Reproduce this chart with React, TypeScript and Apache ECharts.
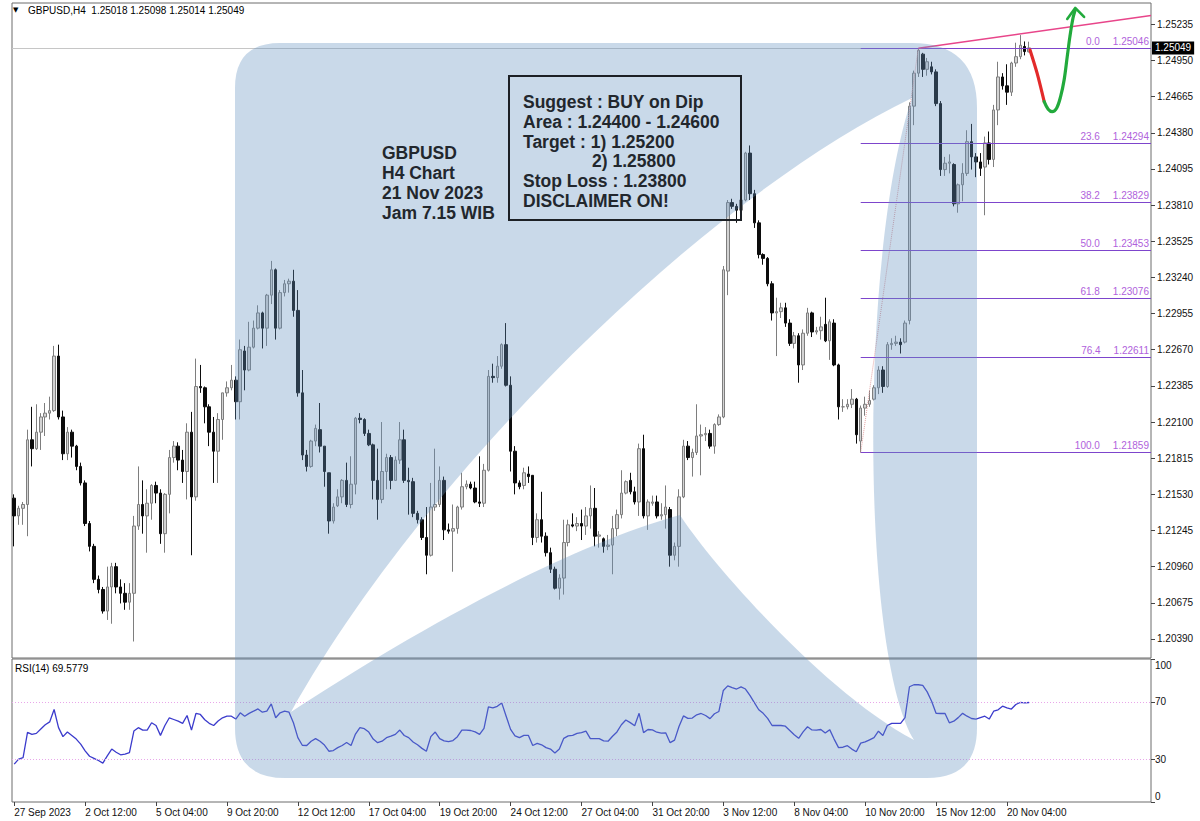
import React, { useEffect, useRef } from "react";
import * as echarts from "echarts";

// ---------- data ----------
const CATEGORY_SLOTS = 257; // bars + empty right margin of the MT4 chart
const LABEL_STEP = 16;
const TIME_LABELS = [
  "27 Sep 2023", "2 Oct 12:00", "5 Oct 04:00", "9 Oct 20:00", "12 Oct 12:00",
  "17 Oct 04:00", "19 Oct 20:00", "24 Oct 12:00", "27 Oct 04:00", "31 Oct 20:00",
  "3 Nov 12:00", "8 Nov 04:00", "10 Nov 20:00", "15 Nov 12:00", "20 Nov 04:00",
];
const PRICE_MIN = 1.2024;
const PRICE_MAX = 1.25403;
const PRICE_TICKS = [
  1.2039, 1.20675, 1.2096, 1.21245, 1.2153, 1.21815, 1.221, 1.22385, 1.2267,
  1.22955, 1.2324, 1.23525, 1.2381, 1.24095, 1.2438, 1.24665, 1.2495, 1.25235,
];
const RSI_TICKS = [0, 30, 70, 100];
const RSI_LEVELS = [70, 30];

// [open, close, low, high]
const CANDLES = [
  [1.2150, 1.2136, 1.2112, 1.2153], [1.2136, 1.2142, 1.2129, 1.2144], [1.2142, 1.2145, 1.2129, 1.2147], [1.2145, 1.2196, 1.2120, 1.2204], [1.2196, 1.2189, 1.2175, 1.2222],
  [1.2189, 1.2202, 1.2188, 1.2224], [1.2202, 1.2214, 1.2188, 1.2217], [1.2214, 1.2217, 1.2199, 1.2225], [1.2217, 1.2219, 1.2212, 1.2230], [1.2219, 1.2262, 1.2218, 1.2270],
  [1.2262, 1.2214, 1.2212, 1.2271], [1.2214, 1.2185, 1.2180, 1.2219], [1.2185, 1.2202, 1.2180, 1.2206], [1.2202, 1.2191, 1.2182, 1.2204], [1.2191, 1.2175, 1.2172, 1.2192],
  [1.2175, 1.2162, 1.2160, 1.2178], [1.2162, 1.2130, 1.2128, 1.2164], [1.2130, 1.2112, 1.2108, 1.2132], [1.2112, 1.2086, 1.2083, 1.2114], [1.2086, 1.2078, 1.2075, 1.2089],
  [1.2078, 1.2061, 1.2059, 1.2080], [1.2061, 1.2080, 1.2054, 1.2096], [1.2080, 1.2096, 1.2051, 1.2099], [1.2096, 1.2080, 1.2075, 1.2099], [1.2080, 1.2075, 1.2067, 1.2086],
  [1.2075, 1.2068, 1.2062, 1.2083], [1.2068, 1.2075, 1.2062, 1.2083], [1.2075, 1.2128, 1.2037, 1.2136], [1.2128, 1.2145, 1.2125, 1.2175], [1.2145, 1.2136, 1.2122, 1.2164],
  [1.2136, 1.2146, 1.2107, 1.2157], [1.2146, 1.2160, 1.2133, 1.2161], [1.2160, 1.2154, 1.2146, 1.2163], [1.2154, 1.2122, 1.2114, 1.2157], [1.2122, 1.2153, 1.2107, 1.2154],
  [1.2153, 1.2182, 1.2138, 1.2188], [1.2182, 1.2191, 1.2178, 1.2195], [1.2191, 1.2180, 1.2172, 1.2194], [1.2180, 1.2171, 1.2162, 1.2188], [1.2171, 1.2202, 1.2149, 1.2209],
  [1.2202, 1.2151, 1.2105, 1.2218], [1.2151, 1.2238, 1.2148, 1.2260], [1.2238, 1.2237, 1.2233, 1.2255], [1.2237, 1.2222, 1.2209, 1.2238], [1.2222, 1.2202, 1.2191, 1.2224],
  [1.2202, 1.2187, 1.2162, 1.2214], [1.2187, 1.2212, 1.2162, 1.2217], [1.2212, 1.2233, 1.2196, 1.2233], [1.2233, 1.2237, 1.2230, 1.2242], [1.2237, 1.2243, 1.2235, 1.2255],
  [1.2243, 1.2226, 1.2212, 1.2246], [1.2226, 1.2267, 1.2212, 1.2275], [1.2266, 1.2251, 1.2235, 1.2270], [1.2251, 1.2269, 1.2250, 1.2289], [1.2269, 1.2284, 1.2268, 1.2290],
  [1.2284, 1.2296, 1.2283, 1.2302], [1.2296, 1.2284, 1.2268, 1.2297], [1.2284, 1.2310, 1.2270, 1.2311], [1.2310, 1.2330, 1.2303, 1.2337], [1.2330, 1.2284, 1.2275, 1.2331],
  [1.2284, 1.2312, 1.2283, 1.2314], [1.2312, 1.2319, 1.2309, 1.2322], [1.2319, 1.2321, 1.2312, 1.2323], [1.2321, 1.2298, 1.2293, 1.2330], [1.2298, 1.2233, 1.2230, 1.2314],
  [1.2233, 1.2184, 1.2180, 1.2251], [1.2184, 1.2175, 1.2171, 1.2188], [1.2175, 1.2195, 1.2174, 1.2196], [1.2195, 1.2205, 1.2191, 1.2208], [1.2204, 1.2191, 1.2186, 1.2225],
  [1.2191, 1.2171, 1.2159, 1.2191], [1.2170, 1.2132, 1.2122, 1.2170], [1.2132, 1.2143, 1.2130, 1.2146], [1.2144, 1.2151, 1.2143, 1.2157], [1.2151, 1.2164, 1.2146, 1.2165],
  [1.2164, 1.2145, 1.2143, 1.2178], [1.2145, 1.2161, 1.2142, 1.2183], [1.2161, 1.2213, 1.2153, 1.2214], [1.2213, 1.2212, 1.2209, 1.2217], [1.2212, 1.2201, 1.2199, 1.2213],
  [1.2201, 1.2192, 1.2191, 1.2204], [1.2192, 1.2164, 1.2149, 1.2193], [1.2164, 1.2149, 1.2133, 1.2189], [1.2149, 1.2171, 1.2146, 1.2210], [1.2171, 1.2182, 1.2157, 1.2185],
  [1.2182, 1.2164, 1.2157, 1.2184], [1.2164, 1.2180, 1.2164, 1.2183], [1.2180, 1.2196, 1.2177, 1.2210], [1.2196, 1.2164, 1.2162, 1.2204], [1.2164, 1.2163, 1.2137, 1.2174],
  [1.2163, 1.2138, 1.2135, 1.2166], [1.2138, 1.2133, 1.2130, 1.2140], [1.2133, 1.2119, 1.2117, 1.2135], [1.2119, 1.2105, 1.2090, 1.2143], [1.2105, 1.2143, 1.2104, 1.2162],
  [1.2143, 1.2145, 1.2140, 1.2189], [1.2145, 1.2164, 1.2143, 1.2175], [1.2164, 1.2125, 1.2117, 1.2167], [1.2125, 1.2124, 1.2122, 1.2130], [1.2124, 1.2126, 1.2092, 1.2145],
  [1.2126, 1.2143, 1.2122, 1.2144], [1.2143, 1.2159, 1.2141, 1.2170], [1.2159, 1.2161, 1.2157, 1.2164], [1.2161, 1.2158, 1.2157, 1.2163], [1.2158, 1.2147, 1.2146, 1.2163],
  [1.2147, 1.2146, 1.2143, 1.2183], [1.2146, 1.2172, 1.2143, 1.2177], [1.2172, 1.2246, 1.2171, 1.2251], [1.2246, 1.2245, 1.2241, 1.2256], [1.2245, 1.2254, 1.2241, 1.2262],
  [1.2254, 1.2271, 1.2252, 1.2272], [1.2271, 1.2239, 1.2238, 1.2288], [1.2239, 1.2187, 1.2171, 1.2246], [1.2187, 1.2162, 1.2153, 1.2191], [1.2162, 1.2159, 1.2157, 1.2164],
  [1.2160, 1.2170, 1.2157, 1.2174], [1.2169, 1.2167, 1.2162, 1.2175], [1.2168, 1.2119, 1.2113, 1.2168], [1.2119, 1.2133, 1.2115, 1.2138], [1.2133, 1.2120, 1.2115, 1.2155],
  [1.2120, 1.2107, 1.2104, 1.2123], [1.2107, 1.2094, 1.2091, 1.2111], [1.2094, 1.2079, 1.2078, 1.2096], [1.2079, 1.2087, 1.2070, 1.2090], [1.2087, 1.2115, 1.2074, 1.2133],
  [1.2115, 1.2129, 1.2112, 1.2133], [1.2129, 1.2128, 1.2127, 1.2138], [1.2128, 1.2130, 1.2124, 1.2135], [1.2130, 1.2128, 1.2117, 1.2141], [1.2128, 1.2136, 1.2121, 1.2143],
  [1.2136, 1.2142, 1.2126, 1.2160], [1.2142, 1.2120, 1.2112, 1.2158], [1.2120, 1.2121, 1.2111, 1.2124], [1.2118, 1.2112, 1.2107, 1.2119], [1.2112, 1.2113, 1.2109, 1.2121],
  [1.2113, 1.2126, 1.2090, 1.2136], [1.2126, 1.2137, 1.2120, 1.2141], [1.2137, 1.2154, 1.2134, 1.2172], [1.2154, 1.2163, 1.2153, 1.2164], [1.2164, 1.2155, 1.2153, 1.2170],
  [1.2155, 1.2147, 1.2145, 1.2159], [1.2147, 1.2189, 1.2136, 1.2193], [1.2189, 1.2136, 1.2134, 1.2200], [1.2136, 1.2147, 1.2125, 1.2149], [1.2146, 1.2147, 1.2144, 1.2152],
  [1.2147, 1.2136, 1.2134, 1.2152], [1.2136, 1.2137, 1.2133, 1.2146], [1.2137, 1.2143, 1.2126, 1.2160], [1.2141, 1.2105, 1.2096, 1.2143], [1.2105, 1.2112, 1.2101, 1.2115],
  [1.2112, 1.2151, 1.2096, 1.2157], [1.2151, 1.2191, 1.2150, 1.2196], [1.2191, 1.2182, 1.2180, 1.2195], [1.2182, 1.2186, 1.2167, 1.2189], [1.2186, 1.2199, 1.2184, 1.2224],
  [1.2199, 1.2200, 1.2168, 1.2208], [1.2200, 1.2201, 1.2195, 1.2206], [1.2201, 1.2191, 1.2189, 1.2204], [1.2191, 1.2208, 1.2185, 1.2209], [1.2208, 1.2214, 1.2207, 1.2216],
  [1.2214, 1.2330, 1.2213, 1.2333], [1.2329, 1.2383, 1.2310, 1.2385], [1.2383, 1.2380, 1.2378, 1.2386], [1.2380, 1.2377, 1.2367, 1.2382], [1.2377, 1.2385, 1.2369, 1.2388],
  [1.2385, 1.2422, 1.2384, 1.2423], [1.2422, 1.2390, 1.2385, 1.2428], [1.2390, 1.2367, 1.2363, 1.2393], [1.2367, 1.2342, 1.2339, 1.2369], [1.2342, 1.2339, 1.2334, 1.2343],
  [1.2339, 1.2319, 1.2317, 1.2340], [1.2319, 1.2296, 1.2290, 1.2321], [1.2296, 1.2297, 1.2262, 1.2308], [1.2297, 1.2300, 1.2292, 1.2304], [1.2300, 1.2288, 1.2285, 1.2304],
  [1.2288, 1.2272, 1.2270, 1.2291], [1.2272, 1.2278, 1.2268, 1.2281], [1.2278, 1.2255, 1.2241, 1.2280], [1.2255, 1.2280, 1.2251, 1.2283], [1.2280, 1.2296, 1.2278, 1.2300],
  [1.2296, 1.2281, 1.2277, 1.2297], [1.2281, 1.2282, 1.2279, 1.2285], [1.2282, 1.2285, 1.2275, 1.2293], [1.2287, 1.2274, 1.2273, 1.2308], [1.2274, 1.2289, 1.2259, 1.2291],
  [1.2288, 1.2255, 1.2254, 1.2291], [1.2255, 1.2222, 1.2212, 1.2256], [1.2222, 1.2222, 1.2218, 1.2228], [1.2222, 1.2224, 1.2220, 1.2228], [1.2224, 1.2228, 1.2221, 1.2236],
  [1.2228, 1.2200, 1.2193, 1.2229], [1.2195, 1.2221, 1.21859, 1.2223], [1.2221, 1.2224, 1.2215, 1.2230], [1.2224, 1.2227, 1.2222, 1.2235], [1.2228, 1.2237, 1.2227, 1.2239],
  [1.2237, 1.2251, 1.2232, 1.2254], [1.2251, 1.2238, 1.2233, 1.2254], [1.2238, 1.2271, 1.2237, 1.2273], [1.2271, 1.2272, 1.2267, 1.2276], [1.2272, 1.2273, 1.2270, 1.2278],
  [1.2273, 1.2271, 1.2264, 1.2276], [1.2273, 1.2288, 1.2272, 1.2290], [1.2290, 1.2459, 1.2287, 1.2462], [1.2459, 1.2485, 1.2444, 1.2487], [1.2485, 1.2503, 1.2482, 1.25046],
  [1.2500, 1.2488, 1.2482, 1.2501], [1.2488, 1.2494, 1.2483, 1.2497], [1.2490, 1.2486, 1.2484, 1.2494], [1.2486, 1.2461, 1.2459, 1.2488], [1.2461, 1.2409, 1.2404, 1.2463],
  [1.2409, 1.2414, 1.2404, 1.2419], [1.2414, 1.2415, 1.2406, 1.2421], [1.2413, 1.2382, 1.2380, 1.2414], [1.2382, 1.2397, 1.2375, 1.2398], [1.2397, 1.2406, 1.2384, 1.2414],
  [1.2406, 1.2431, 1.2404, 1.2440], [1.2431, 1.2419, 1.2409, 1.2445], [1.2419, 1.2415, 1.2403, 1.2422], [1.2415, 1.2410, 1.2404, 1.2422], [1.2411, 1.2430, 1.2373, 1.2435],
  [1.2430, 1.2417, 1.2413, 1.2439], [1.2417, 1.2456, 1.2411, 1.2460], [1.2456, 1.2482, 1.2444, 1.2494], [1.2482, 1.2475, 1.2472, 1.2485], [1.2475, 1.2470, 1.2460, 1.2492],
  [1.2470, 1.2493, 1.2467, 1.2494], [1.2493, 1.2498, 1.2490, 1.2509], [1.2498, 1.2507, 1.2496, 1.2515], [1.2506, 1.2502, 1.2499, 1.2510], [1.25018, 1.25049, 1.25014, 1.25098],
];

const RSI = [
  26.5, 30, 31, 48.7, 47.3, 48, 51, 54, 56, 64.7,
  52, 45.7, 48.9, 46.5, 44, 40.5, 35.8, 32, 30.5, 29,
  27.2, 32.3, 37, 34.8, 33, 33.5, 34.6, 49.6, 52, 50.3,
  50.3, 55.4, 53.5, 46.6, 53.5, 58.9, 57.7, 56.5, 55, 60.5,
  50.3, 61.9, 61.2, 57.5, 55, 53.5, 56.6, 58.9, 60, 60,
  58, 62.4, 60, 62, 63.5, 65.1, 62.8, 63.5, 68.6, 58.9,
  62.4, 63.5, 62.8, 55.4, 45, 39.7, 39.5, 42.5, 44.3, 42.5,
  39.8, 35.5, 36, 38, 39.5, 41.6, 39.5, 47.5, 52, 51.3,
  48.9, 44, 41.5, 42.5, 45, 46, 47.3, 50.3, 46.5, 45,
  42, 40, 37.5, 35.5, 45.7, 48.9, 44.3, 42.7, 42.2, 43,
  45.7, 50.3, 50.3, 50, 49, 47.3, 51.5, 66.5, 65.8, 66.9,
  69.3, 60, 50.8, 46.3, 45, 46.6, 46.6, 39.5, 41, 40,
  38, 37, 34.3, 37, 44.5, 46.2, 46.6, 48, 48.5, 49.6,
  44.3, 44.3, 44.3, 42.8, 42.5, 46, 49, 54, 57.3, 55.5,
  53.3, 62, 48.5, 50.7, 50.4, 48.8, 48.2, 48.4, 41.5, 43.3,
  52.8, 60.2, 58.5, 58.7, 61, 61.9, 60.5, 58.3, 61.7, 63.3,
  78, 81.2, 80, 79, 80.5, 79, 74.5, 69.5, 64.5, 62,
  58.5, 53.5, 53.5, 53.5, 53, 50, 47, 44.5, 49, 52.6,
  50.4, 50.3, 50.7, 48.2, 50.6, 44, 38, 38.3, 39.4, 37,
  35.1, 41.2, 42, 43.5, 45, 49.5, 46.5, 53.5, 55, 55,
  55, 59, 80.6, 82, 82, 81.5, 77, 70.5, 62, 61.9,
  62, 55.4, 56.5, 59, 62, 60, 58.4, 58, 59, 60,
  58, 63.5, 64.5, 67, 65.8, 65, 68.2, 69.6, 69.3, 69.5779,
];

const FIB_PCT = ["0.0", "23.6", "38.2", "50.0", "61.8", "76.4", "100.0"];
const FIB_PRICE = [1.25046, 1.24294, 1.23829, 1.23453, 1.23076, 1.22611, 1.21859];
const FIB_LOW_BAR = 191;
const FIB_HIGH_BAR = 204;
const RIGHT_EDGE = 256.5;
const TREND_LINE = [[204, 1.25046], [256.5, 1.25305]];
const BID = 1.25049;
const HEADER_OHLC = [1.25018, 1.25098, 1.25014, 1.25049];
const RSI_LAST = 69.5779;
const PROJ_DOWN = [[229.2, 1.25033], [230.8, 1.2485], [232.4, 1.24626]];
const PROJ_UP = [
  [232.4, 1.24626], [233.3, 1.24566], [234.2, 1.24547], [235.2, 1.24574], [236.1, 1.24665],
  [236.9, 1.24797], [237.6, 1.2498], [238.2, 1.25138], [238.9, 1.25285], [239.4, 1.25348],
];
const ARROW_HEAD = [[237.6, 1.25277], [239.4, 1.25364], [241.4, 1.25293]];

const INFO_LINES = ["GBPUSD", "H4 Chart", "21 Nov 2023", "Jam 7.15 WIB"];
const BOX_LINES = [
  { text: "Suggest : BUY on Dip", indent: 0 },
  { text: "Area : 1.24400 - 1.24600", indent: 0 },
  { text: "Target : 1) 1.25200", indent: 0 },
  { text: "2) 1.25800", indent: 69 },
  { text: "Stop Loss : 1.23800", indent: 0 },
  { text: "DISCLAIMER ON!", indent: 0 },
];

// ---------- watermark logo ----------
const LOGO_D =
  "M280 43 L912 43 Q977 43 977 108 L977 728 Q977 778 927 778 L285 778 Q235 778 235 728 L235 88 Q235 43 280 43 Z " +
  "M291 712 C400 640 560 548 680 515 C705 555 820 690 914 740 C860 650 860 250 912 98 C700 200 420 480 291 712 Z";
echarts.graphic.registerShape("logo", echarts.graphic.extendPath(LOGO_D, {}));

const FONT = "'Liberation Sans', Arial, sans-serif";
const FIB_LINE = "#7d45cc";
const FIB_TEXT = "#b062dc";
const TEXT_DARK = "#22272d";

const CATS = Array.from({ length: CATEGORY_SLOTS }, (_, i) => "b" + i);
const isLabelIdx = (i: number) => i % LABEL_STEP === 0 && i / LABEL_STEP < TIME_LABELS.length;

function buildOption() {
  const fibData = FIB_PRICE.map((p, i) => [
    {
      coord: [FIB_LOW_BAR, p],
      name: FIB_PCT[i],
      label: { formatter: `{p|${FIB_PCT[i]}}{v|${p.toFixed(5)}}` },
    },
    { coord: [RIGHT_EDGE, p] },
  ]);

  const graphic: any[] = [
    { type: "logo", x: 0, y: 0, silent: true, z: 10, style: { fill: "rgba(101,146,192,0.35)" } },
    {
      type: "text", x: 13, y: 10, z: 20,
      style: { text: "▼", fontSize: 7, fill: "#000", verticalAlign: "middle", fontFamily: "'DejaVu Sans'" },
    },
    {
      type: "text", x: 28, y: 10, z: 20,
      style: {
        text: "GBPUSD,H4  " + HEADER_OHLC.map((v) => v.toFixed(5)).join(" "),
        fontSize: 10, fill: "#000", verticalAlign: "middle", fontFamily: FONT,
      },
    },
    {
      type: "text", x: 15, y: 668, z: 20,
      style: { text: "RSI(14) " + RSI_LAST.toFixed(4), fontSize: 10, fill: "#000", verticalAlign: "middle", fontFamily: FONT },
    },
    {
      type: "text", x: 382, y: 143, z: 20,
      style: {
        text: INFO_LINES.join("\n"), fontSize: 17.5, fontWeight: "bold", lineHeight: 20,
        fill: TEXT_DARK, fontFamily: FONT, verticalAlign: "top",
      },
    },
    {
      type: "rect", z: 20, shape: { x: 509, y: 76, width: 232, height: 144 },
      style: { fill: "none", stroke: "#1c2025", lineWidth: 2 },
    },
  ];
  BOX_LINES.forEach((ln, i) => {
    graphic.push({
      type: "text", x: 523 + ln.indent, y: 93 + i * 19.8, z: 20,
      style: {
        text: ln.text, fontSize: 17.5, fontWeight: "bold", fill: TEXT_DARK,
        fontFamily: FONT, verticalAlign: "top",
      },
    });
  });

  return {
    animation: false,
    backgroundColor: "#ffffff",
    textStyle: { fontFamily: FONT },
    grid: [
      { left: 12, right: 49, top: 3, height: 655, show: true, borderColor: "#6d6d6d", borderWidth: 1, backgroundColor: "transparent" },
      { left: 12, right: 49, top: 659, height: 143, show: true, borderColor: "#6d6d6d", borderWidth: 1, backgroundColor: "transparent" },
    ],
    xAxis: [
      {
        type: "category", gridIndex: 0, data: CATS, boundaryGap: true,
        axisLine: { show: false }, axisTick: { show: false }, axisLabel: { show: false }, splitLine: { show: false },
      },
      {
        type: "category", gridIndex: 1, data: CATS, boundaryGap: true,
        axisLine: { show: false, onZero: false },
        axisTick: {
          show: true, alignWithLabel: true, length: 4,
          interval: (i: number) => isLabelIdx(i), lineStyle: { color: "#444" },
        },
        axisLabel: {
          show: true, interval: (i: number) => isLabelIdx(i),
          formatter: (v: string) => {
            const i = parseInt(v.slice(1), 10);
            return isLabelIdx(i) ? TIME_LABELS[i / LABEL_STEP] : "";
          },
          align: "left", margin: 5, fontSize: 10, color: "#111", fontFamily: FONT,
        },
        splitLine: { show: false },
      },
      { type: "value", gridIndex: 0, min: -0.5, max: RIGHT_EDGE, show: false },
    ],
    yAxis: [
      {
        type: "value", gridIndex: 0, position: "right", min: PRICE_MIN, max: PRICE_MAX,
        splitLine: { show: false }, axisLine: { show: false, onZero: false },
        axisTick: { show: true, length: 4, customValues: PRICE_TICKS, lineStyle: { color: "#444" } },
        axisLabel: {
          customValues: PRICE_TICKS, formatter: (v: number) => v.toFixed(5),
          margin: 6, fontSize: 10, color: "#111", fontFamily: FONT, align: "left",
        },
      },
      {
        type: "value", gridIndex: 1, position: "right", min: 0, max: 100,
        splitLine: { show: false }, axisLine: { show: false, onZero: false },
        axisTick: { show: true, length: 4, customValues: RSI_TICKS, lineStyle: { color: "#444" } },
        axisLabel: {
          customValues: RSI_TICKS,
          formatter: (v: number) => (v === 100 ? "{t|100}" : v === 0 ? "{b|0}" : `{m|${v}}`),
          rich: {
            t: { padding: [12, 0, 0, 0], fontSize: 10, color: "#111", fontFamily: FONT },
            b: { padding: [0, 0, 12, 0], fontSize: 10, color: "#111", fontFamily: FONT },
            m: { fontSize: 10, color: "#111", fontFamily: FONT },
          },
          margin: 4, align: "left",
        },
      },
    ],
    series: [
      {
        type: "candlestick", xAxisIndex: 0, yAxisIndex: 0, data: CANDLES, barWidth: 3, z: 3,
        itemStyle: { color: "#d3d3d3", color0: "#0c0c0c", borderColor: "#7e7e7e", borderColor0: "#0c0c0c", borderWidth: 1 },
        markLine: {
          silent: true, symbol: ["none", "none"], animation: false, precision: 5,
          lineStyle: { color: "#c6c6c6", width: 1, type: "solid" },
          label: {
            show: true, position: "end", formatter: BID.toFixed(5), distance: 1,
            backgroundColor: "#000", color: "#fff", fontSize: 10, padding: [2, 3, 1, 3], fontFamily: FONT,
          },
          data: [{ yAxis: BID }],
        },
      },
      {
        type: "line", xAxisIndex: 2, yAxisIndex: 0, symbol: "none", z: 4,
        data: [[FIB_LOW_BAR, FIB_PRICE[6]], [FIB_HIGH_BAR, FIB_PRICE[0]]],
        lineStyle: { color: "#e3a2a2", width: 1, type: "dotted" },
        markLine: {
          silent: true, symbol: ["none", "none"], animation: false, precision: 5,
          lineStyle: { color: FIB_LINE, width: 1, type: "solid" },
          label: {
            show: true, position: "insideEndTop", distance: 2,
            rich: {
              p: { color: FIB_TEXT, fontSize: 10, padding: [0, 13, 0, 0], fontFamily: FONT },
              v: { color: FIB_TEXT, fontSize: 10, fontFamily: FONT },
            },
          },
          data: fibData,
        },
      },
      {
        type: "line", xAxisIndex: 2, yAxisIndex: 0, symbol: "none", z: 5,
        data: TREND_LINE, lineStyle: { color: "#e8458a", width: 1.5 },
      },
      {
        type: "line", xAxisIndex: 2, yAxisIndex: 0, symbol: "none", z: 6, smooth: 0.3,
        data: PROJ_DOWN, lineStyle: { color: "#e32a2a", width: 3.2, cap: "round" },
      },
      {
        type: "line", xAxisIndex: 2, yAxisIndex: 0, symbol: "none", z: 6, smooth: 0.35,
        data: PROJ_UP, lineStyle: { color: "#22aa3c", width: 3.2, cap: "round" },
      },
      {
        type: "line", xAxisIndex: 2, yAxisIndex: 0, symbol: "none", z: 6,
        data: ARROW_HEAD, lineStyle: { color: "#22aa3c", width: 2.6, cap: "round", join: "round" },
      },
      {
        type: "line", xAxisIndex: 1, yAxisIndex: 1, symbol: "none", z: 4, data: RSI,
        lineStyle: { color: "#3b3bcc", width: 1.3 },
        markLine: {
          silent: true, symbol: ["none", "none"], animation: false,
          lineStyle: { color: "#e9a6ea", width: 1, type: [1, 2] },
          label: { show: false },
          data: RSI_LEVELS.map((v) => ({ yAxis: v })),
        },
      },
    ],
    graphic,
  };
}

export default function App() {
  const ref = useRef<HTMLDivElement>(null);
  useEffect(() => {
    if (!ref.current) return;
    const chart = echarts.init(ref.current, null, { renderer: "svg" });
    chart.setOption(buildOption() as any);
    return () => chart.dispose();
  }, []);
  return (
    <div
      ref={ref}
      style={{ position: "fixed", left: 0, top: 0, width: 1200, height: 821, background: "#fff" }}
    />
  );
}
